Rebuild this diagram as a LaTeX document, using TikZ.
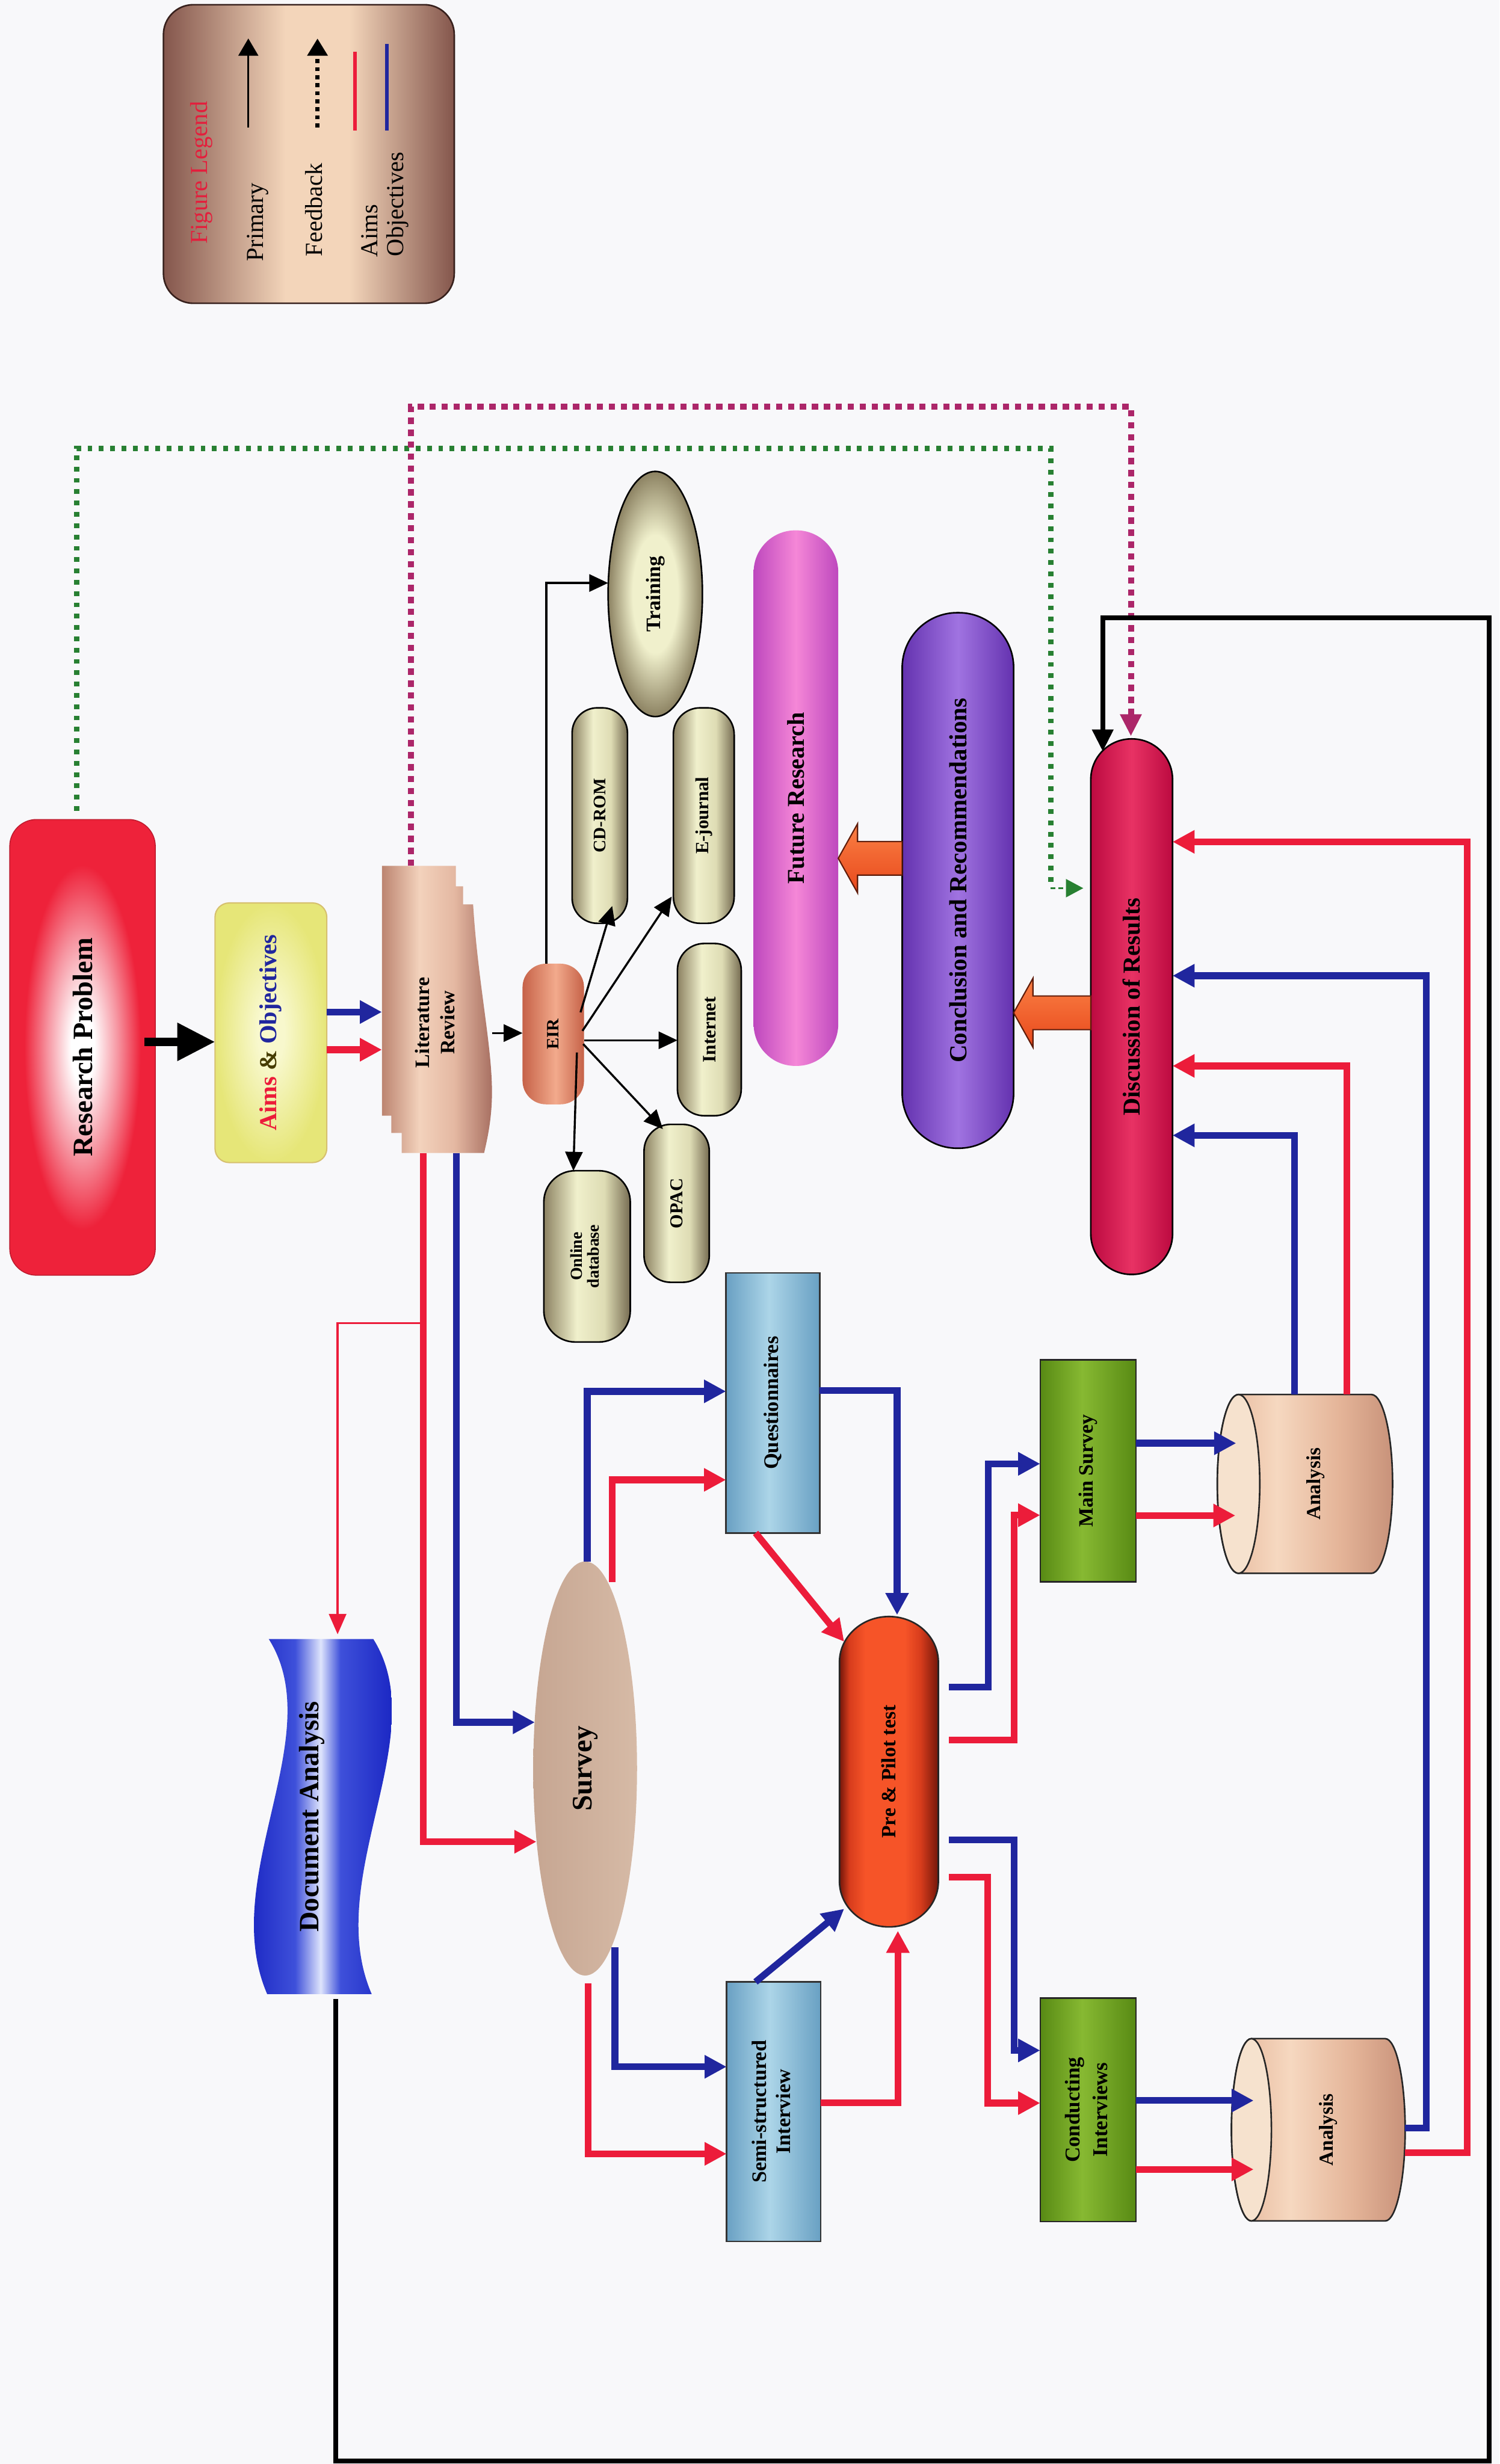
\documentclass[tikz,border=0pt]{standalone}
\usepackage{fontspec}
\setmainfont{Liberation Serif}
\usepackage{graphicx}
\usetikzlibrary{arrows.meta,calc,shapes.geometric}

\definecolor{bgc}{RGB}{248,248,250}
\definecolor{aimred}{RGB}{236,28,58}
\definecolor{objblue}{RGB}{32,38,158}
\definecolor{fbgreen}{RGB}{40,128,50}
\definecolor{fbmag}{RGB}{172,38,105}
\definecolor{rpred}{RGB}{238,34,58}
\definecolor{rpl}{RGB}{246,150,162}
\definecolor{aimyel}{RGB}{230,230,120}
\definecolor{aimyell}{RGB}{248,248,205}
\definecolor{aimedge}{RGB}{214,192,110}
\definecolor{andcol}{RGB}{70,60,0}
\definecolor{legd}{RGB}{132,86,76}
\definecolor{legl}{RGB}{243,213,186}
\definecolor{legedge}{RGB}{55,32,28}
\definecolor{legred}{RGB}{228,30,60}
\definecolor{litd}{RGB}{188,132,112}
\definecolor{litl}{RGB}{243,210,188}
\definecolor{litm}{RGB}{228,184,162}
\definecolor{litr}{RGB}{168,112,98}
\definecolor{eird}{RGB}{198,98,72}
\definecolor{eirl}{RGB}{242,170,140}
\definecolor{olvd}{RGB}{140,130,98}
\definecolor{olvl}{RGB}{240,240,204}
\definecolor{olvm}{RGB}{222,220,180}
\definecolor{olvr}{RGB}{118,108,82}
\definecolor{frd}{RGB}{190,72,190}
\definecolor{frl}{RGB}{245,135,215}
\definecolor{crd}{RGB}{100,50,175}
\definecolor{crl}{RGB}{160,115,225}
\definecolor{drd}{RGB}{188,10,64}
\definecolor{drl}{RGB}{232,50,100}
\definecolor{lbd}{RGB}{105,160,195}
\definecolor{lbl}{RGB}{172,213,232}
\definecolor{svy}{RGB}{198,166,146}
\definecolor{svyl}{RGB}{214,186,166}
\definecolor{dad}{RGB}{28,40,196}
\definecolor{dam}{RGB}{62,80,218}
\definecolor{dal}{RGB}{222,228,252}
\definecolor{ppd}{RGB}{115,22,10}
\definecolor{ppb}{RGB}{246,84,40}
\definecolor{ppm}{RGB}{215,60,28}
\definecolor{grd}{RGB}{88,138,20}
\definecolor{grl}{RGB}{135,185,50}
\definecolor{cyd}{RGB}{200,146,122}
\definecolor{cyl}{RGB}{246,216,192}
\definecolor{cym}{RGB}{228,180,152}
\definecolor{cyface}{RGB}{246,226,206}
\definecolor{orb}{RGB}{232,72,28}
\definecolor{orl}{RGB}{250,128,68}
\definecolor{ored}{RGB}{95,28,10}

\pgfdeclareradialshading{rpshade}{\pgfpoint{0bp}{0bp}}{color(0bp)=(white); color(4bp)=(white); color(12bp)=(rpl); color(20bp)=(rpred); color(50bp)=(rpred)}
\pgfdeclareradialshading{aimshade}{\pgfpoint{0bp}{0bp}}{color(0bp)=(aimyell); color(6bp)=(aimyell); color(25bp)=(aimyel); color(50bp)=(aimyel)}
\pgfdeclareradialshading{trshade}{\pgfpoint{0bp}{0bp}}{color(0bp)=(olvl); color(12bp)=(olvl); color(25bp)=(olvd); color(50bp)=(olvd)}
\pgfdeclarehorizontalshading{legshade}{100bp}{color(0bp)=(legd); color(25bp)=(legd); color(46bp)=(legl); color(57bp)=(legl); color(75bp)=(legd); color(100bp)=(legd)}
\pgfdeclarehorizontalshading{litshade}{100bp}{color(0bp)=(litd); color(25bp)=(litd); color(42bp)=(litl); color(58bp)=(litm); color(75bp)=(litr); color(100bp)=(litr)}
\pgfdeclarehorizontalshading{eirshade}{100bp}{color(0bp)=(eird); color(25bp)=(eird); color(52bp)=(eirl); color(75bp)=(eird); color(100bp)=(eird)}
\pgfdeclarehorizontalshading{olvshade}{100bp}{color(0bp)=(olvd); color(25bp)=(olvd); color(44bp)=(olvl); color(60bp)=(olvm); color(75bp)=(olvr); color(100bp)=(olvr)}
\pgfdeclarehorizontalshading{frshade}{100bp}{color(0bp)=(frd); color(25bp)=(frd); color(50bp)=(frl); color(75bp)=(frd); color(100bp)=(frd)}
\pgfdeclarehorizontalshading{crshade}{100bp}{color(0bp)=(crd); color(25bp)=(crd); color(50bp)=(crl); color(75bp)=(crd); color(100bp)=(crd)}
\pgfdeclarehorizontalshading{drshade}{100bp}{color(0bp)=(drd); color(25bp)=(drd); color(50bp)=(drl); color(75bp)=(drd); color(100bp)=(drd)}
\pgfdeclarehorizontalshading{lbshade}{100bp}{color(0bp)=(lbd); color(25bp)=(lbd); color(48bp)=(lbl); color(75bp)=(lbd); color(100bp)=(lbd)}
\pgfdeclarehorizontalshading{dashade}{100bp}{color(0bp)=(dad); color(25bp)=(dad); color(41bp)=(dam); color(50bp)=(dal); color(57bp)=(dam); color(75bp)=(dad); color(100bp)=(dad)}
\pgfdeclarehorizontalshading{ppshade}{100bp}{color(0bp)=(ppd); color(25bp)=(ppd); color(30bp)=(ppm); color(38bp)=(ppb); color(58bp)=(ppb); color(66bp)=(ppm); color(75bp)=(ppd); color(100bp)=(ppd)}
\pgfdeclarehorizontalshading{grshade}{100bp}{color(0bp)=(grd); color(25bp)=(grd); color(47bp)=(grl); color(75bp)=(grd); color(100bp)=(grd)}
\pgfdeclarehorizontalshading{cyshade}{100bp}{color(0bp)=(cym); color(25bp)=(cym); color(42bp)=(cyl); color(60bp)=(cym); color(75bp)=(cyd); color(100bp)=(cyd)}

\tikzset{
  box/.style={inner sep=0pt, outer sep=0pt},
  objln/.style={draw=objblue, line width=4.3pt, -{Triangle[length=14pt,width=14pt]}},
  aimln/.style={draw=aimred, line width=4.3pt, -{Triangle[length=14pt,width=14pt]}},
  thinblk/.style={draw=black, line width=1.3pt, -{Triangle[length=12pt,width=11pt]}},
  fbk/.style={draw=black, line width=3.2pt, -{Triangle[length=14pt,width=13pt]}},
  grdot/.style={draw=fbgreen, line width=3.3pt, dash pattern=on 3pt off 4.2pt},
  grthin/.style={draw=fbgreen, line width=1pt, dash pattern=on 3pt off 2pt, -{Triangle[length=11pt,width=11.5pt]}},
  mgdot/.style={draw=fbmag, line width=3.8pt, dash pattern=on 4pt off 3.6pt, -{Triangle[length=14pt,width=13pt]}},
  blockarrow/.style={top color=orl, bottom color=orb, draw=ored, line width=0.8pt},
  olv/.style={box, shade, shading=olvshade, draw=black, line width=1pt},
  legtxt/.style={box, font=\fontsize{15.5}{18}\selectfont},
}

\begin{document}
\begin{tikzpicture}[x=1pt,y=-1pt]
\useasboundingbox[fill=bgc] (0,0) rectangle (954,1568);

% ---------- Legend ----------
\node[box, minimum width=185pt, minimum height=190pt, rounded corners=19pt, shade, shading=legshade, draw=legedge, line width=1pt] (legend) at (196.5,98) {};
\coordinate (lpa) at (158,81); \coordinate (lpb) at (158,24.5);
\coordinate (lfa) at (202,81); \coordinate (lfb) at (202,24.5);
\coordinate (lra) at (226,83); \coordinate (lrb) at (226,33);
\coordinate (loa) at (246,83); \coordinate (lob) at (246,28);
\draw[line width=1.3pt, -{Triangle[length=11pt,width=12.6pt]}] (lpa) -- (lpb);
\draw[line width=2.6pt, dash pattern=on 2.5pt off 2.6pt, -{Triangle[length=11pt,width=12.6pt]}] (lfa) -- (lfb);
\draw[aimred, line width=2.3pt] (lra) -- (lrb);
\draw[objblue, line width=2.3pt] (loa) -- (lob);
\node[legtxt, text=legred, font=\fontsize{15.5}{18}\selectfont] (lgt) at (128,110) {\rotatebox{90}{Figure Legend}};
\node[legtxt] (lgp) at (164,141.5) {\rotatebox{90}{Primary}};
\node[legtxt] (lgf) at (199.6,133.5) {\rotatebox{90}{Feedback}};
\node[legtxt] (lga) at (235,147) {\rotatebox{90}{Aims}};
\node[legtxt] (lgo) at (253,130) {\rotatebox{90}{Objectives}};

% ---------- Main nodes ----------
\node[box, minimum width=92.6pt, minimum height=290pt, rounded corners=17pt, shade, shading=rpshade, draw=rpred!80!black, line width=0.6pt, font=\fontsize{17.8}{20}\selectfont\bfseries] (rp) at (52.5,666.5) {\rotatebox{90}{Research Problem}};

\node[box, minimum width=71.1pt, minimum height=165.2pt, rounded corners=9pt, shade, shading=aimshade, draw=aimedge, line width=0.8pt, font=\fontsize{15.5}{18}\selectfont\bfseries] (aims) at (172.35,657.2) {\rotatebox{90}{\textcolor{aimred}{Aims} \textcolor{andcol}{\&} \textcolor{objblue}{Objectives}}};

% Literature review (multi-document)
\shade[shading=litshade] (243,551) -- (290,551) -- (290,564) -- (294.6,564) -- (294.6,575.5) -- (301,575.5) .. controls (304,625) and (313,665) .. (313,695) .. controls (313,712) and (310,725) .. (308,733.7) -- (255.6,733.7) -- (255.6,721) -- (249,721) -- (249,710) -- (243,710) -- cycle;
\node[box, minimum width=70pt, minimum height=182.7pt, font=\fontsize{13}{15.8}\selectfont\bfseries] (lit) at (278,642.35) {\rotatebox{90}{\begin{tabular}{@{}c@{}}Literature\\Review\end{tabular}\hspace*{16.8pt}}};

\node[box, minimum width=39.1pt, minimum height=89.5pt, rounded corners=15pt, shade, shading=eirshade, font=\fontsize{11}{13}\selectfont\bfseries] (eir) at (352,658) {\rotatebox{90}{EIR}};

\node[ellipse, box, minimum width=60pt, minimum height=156pt, shade, shading=trshade, draw=black, line width=1pt, font=\fontsize{13}{15}\selectfont\bfseries] (train) at (416.9,378) {\rotatebox{90}{Training}};
\node[olv, minimum width=35.2pt, minimum height=137.1pt, rounded corners=16pt, font=\fontsize{11.2}{13}\selectfont\bfseries] (cd) at (381.6,519) {\rotatebox{90}{CD-ROM}};
\node[olv, minimum width=38.7pt, minimum height=137.1pt, rounded corners=17pt, font=\fontsize{11.8}{13}\selectfont\bfseries] (ej) at (447.75,519) {\rotatebox{90}{E-journal}};
\node[olv, minimum width=40.6pt, minimum height=109.6pt, rounded corners=17pt, font=\fontsize{12}{14}\selectfont\bfseries] (inet) at (451.3,655.2) {\rotatebox{90}{Internet}};
\node[olv, minimum width=41.5pt, minimum height=100.5pt, rounded corners=17pt, font=\fontsize{11.6}{13}\selectfont\bfseries] (opac) at (430.5,765.75) {\rotatebox{90}{OPAC}};
\node[olv, minimum width=55pt, minimum height=109pt, rounded corners=20pt, font=\fontsize{10.7}{11}\selectfont\bfseries] (odb) at (373.5,799.5) {\rotatebox{90}{\begin{tabular}{@{}c@{}}Online\\database\end{tabular}}};

\node[box, minimum width=53.8pt, minimum height=340.8pt, rounded corners=26.5pt, shade, shading=frshade, font=\fontsize{15.4}{18}\selectfont\bfseries] (fr) at (506.4,507.9) {\rotatebox{90}{Future Research}};
\node[box, minimum width=70.9pt, minimum height=340.8pt, rounded corners=35pt, shade, shading=crshade, draw=black, line width=1pt, font=\fontsize{15.7}{18}\selectfont\bfseries] (cr) at (609.45,560.3) {\rotatebox{90}{Conclusion and Recommendations}};
\node[box, minimum width=52pt, minimum height=340.8pt, rounded corners=25.8pt, shade, shading=drshade, draw=black, line width=1pt, font=\fontsize{15.5}{18}\selectfont\bfseries] (dr) at (720,640.6) {\rotatebox{90}{Discussion of Results}};

\node[box, minimum width=59.6pt, minimum height=165.5pt, shade, shading=lbshade, draw=black!80, line width=1pt, font=\fontsize{13.2}{15}\selectfont\bfseries] (q) at (491.7,892.75) {\rotatebox{90}{Questionnaires}};
\node[box, minimum width=59.8pt, minimum height=165.2pt, shade, shading=lbshade, draw=black!80, line width=1pt, font=\fontsize{13.1}{15.3}\selectfont\bfseries] (ss) at (492.2,1343.8) {\rotatebox{90}{\begin{tabular}{@{}c@{}}Semi-structured\\Interview\end{tabular}}};

\node[ellipse, box, minimum width=66pt, minimum height=263.5pt, shade, left color=svy, right color=svyl, font=\fontsize{18}{20}\selectfont\bfseries] (survey) at (372.3,1125.4) {\rotatebox{90}{Survey}};

% Document analysis (tape)
\begin{scope}
\clip (171,1043) -- (237.5,1043) .. controls (276.5,1105) and (204.5,1195) .. (236.5,1269) -- (170,1269) .. controls (138,1195) and (210,1105) .. (171,1043) -- cycle;
\shade[shading=dashade] (159,1040) rectangle (249,1272);
\end{scope}
\node[box, minimum width=60pt, minimum height=226pt, font=\fontsize{17.8}{20}\selectfont\bfseries] (da) at (198.4,1156) {\rotatebox{90}{Document Analysis}};

% Pre & Pilot test
\shade[shading=ppshade, draw=black!85, line width=1pt] (534.1,1057.7) arc[start angle=180, end angle=360, x radius=31.45, y radius=29] -- (597,1197.2) arc[start angle=0, end angle=180, x radius=31.45, y radius=29] -- cycle;
\node[box, minimum width=62.9pt, minimum height=197.5pt, font=\fontsize{12.9}{15}\selectfont\bfseries] (pp) at (565.55,1127.45) {\rotatebox{90}{Pre \& Pilot test}};

\node[box, minimum width=61pt, minimum height=141.2pt, shade, shading=grshade, draw=black!85, line width=1pt, font=\fontsize{13}{15}\selectfont\bfseries] (ms) at (692.3,936) {\rotatebox{90}{Main Survey}};
\node[box, minimum width=61pt, minimum height=142.2pt, shade, shading=grshade, draw=black!85, line width=1pt, font=\fontsize{13.4}{17.7}\selectfont\bfseries] (ci) at (692.3,1342.6) {\rotatebox{90}{\begin{tabular}{@{}c@{}}Conducting\\Interviews\end{tabular}}};

% Analysis cylinders
\shade[shading=cyshade, draw=black!85, line width=1pt] (788,887.4) -- (872.5,887.4) arc[start angle=-90, end angle=90, x radius=13.5, y radius=56.9] -- (788,1001.2) arc[start angle=90, end angle=270, x radius=13.5, y radius=56.9] -- cycle;
\draw[fill=cyface, draw=black!85, line width=1pt] (788,944.3) ellipse [x radius=13.5, y radius=56.9];
\node[box, minimum width=98pt, minimum height=113.8pt, font=\fontsize{12.7}{15}\selectfont\bfseries] (a1) at (837,944.3) {\rotatebox{90}{Analysis}};

\shade[shading=cyshade, draw=black!85, line width=1pt] (796.2,1297.3) -- (881.3,1297.3) arc[start angle=-90, end angle=90, x radius=12.7, y radius=58] -- (796.2,1413.3) arc[start angle=90, end angle=270, x radius=12.7, y radius=58] -- cycle;
\draw[fill=cyface, draw=black!85, line width=1pt] (796.2,1355.3) ellipse [x radius=12.7, y radius=58];
\node[box, minimum width=97.8pt, minimum height=116pt, font=\fontsize{12.7}{15}\selectfont\bfseries] (a2) at (845.1,1355.3) {\rotatebox{90}{Analysis}};

% ---------- Block arrows ----------
\coordinate (o1b) at (dr.west |- 0,644.5);
\coordinate (o1t) at (cr.east |- 0,644.5);
\shade[blockarrow] ($(o1b)+(0,-10.7)$) -- ($(o1t)+(12.3,-10.7)$) -- ($(o1t)+(12.3,-22)$) -- (o1t) -- ($(o1t)+(12.3,22)$) -- ($(o1t)+(12.3,10.7)$) -- ($(o1b)+(0,10.7)$) -- cycle;
\coordinate (o2b) at (cr.west |- 0,546.2);
\coordinate (o2t) at (fr.east |- 0,546.2);
\shade[blockarrow] ($(o2b)+(0,-10.7)$) -- ($(o2t)+(12.3,-10.7)$) -- ($(o2t)+(12.3,-22)$) -- (o2t) -- ($(o2t)+(12.3,22)$) -- ($(o2t)+(12.3,10.7)$) -- ($(o2b)+(0,10.7)$) -- cycle;

% ---------- Feedback (dotted) ----------
\draw[grdot] ($(rp.north)+(-3.7,-5.5)$) |- (668.5,285.3) -- (668.5,565.2);
\draw[grthin] (668.5,565.2) -- ($(dr.west |- 0,565.2)+(-4.8,0)$);
\draw[mgdot] (lit.north -| 261.5,0) |- (719.5,258.8) -- ($(dr.north)+(-0.5,-1.7)$);

% ---------- Primary connectors ----------
\draw[line width=5.2pt, -{Triangle[length=24pt,width=23pt]}] ($(rp.east |- 0,663)+(-7,0)$) -- (aims.west |- 0,663);
\draw[objln] (aims.east |- 0,644) -- (lit.west |- 0,644);
\draw[aimln] (aims.east |- 0,668) -- (lit.west |- 0,668);
\draw[thinblk] (lit.east |- 0,657.4) -- (eir.west |- 0,657.4);

\draw[thinblk] (eir.north -| 347.6,0) |- (train.west |- 0,371);
\draw[thinblk] ($(eir.east)+(-2.2,-13.8)$) -- ($(cd.south)+(7.9,-11)$);
\draw[thinblk] ($(eir.east)+(-1,-2)$) -- ($(ej.south west)+(-1,-17)$);
\draw[thinblk] ($(eir.east)+(0,4)$) -- (inet.west |- 0,662);
\draw[thinblk] ($(eir.east)+(-0.5,6.4)$) -- ($(opac.north west)+(12,3)$);
\draw[thinblk] ($(eir.east)+(-4.5,11.8)$) -- (odb.north -| 364.8,0);

\draw[aimln] (lit.south -| 269.3,0) |- ($(survey.west |- 0,1172)+(2,0)$);
\coordinate (dabr) at (267.3,842);
\draw[aimred, line width=1.3pt, -{Triangle[length=13pt,width=11pt]}] (dabr) -| ($(da.north)+(16.4,-3)$);
\draw[objln] (lit.south -| 290.4,0) |- ($(survey.west |- 0,1096)+(1,0)$);

\draw[objln] (survey.north -| 373.6,0) |- (q.west |- 0,885.4);
\draw[aimln] ($(survey.north)+(17.1,13.1)$) |- (q.west |- 0,941.7);
\draw[aimln] ($(q.south)+(-11,0)$) -- ($(pp.north west)+(3,16)$);
\draw[objln] (q.east |- 0,885) -| ($(pp.north)+(5.2,-1)$);

\draw[objln] ($(survey.south)+(18.9,-18)$) |- (ss.west |- 0,1315.2);
\draw[aimln] ($(survey.south)+(2,5)$) |- (ss.west |- 0,1370.6);
\draw[objln] ($(ss.north)+(-11.5,0)$) -- ($(pp.south west)+(3,-11.5)$);
\draw[aimln] (ss.east |- 0,1338) -| ($(pp.south)+(5.7,2.5)$);

\draw[objln] ($(pp.east |- 0,1073.7)+(6.6,0)$) -| (628.8,931.5) -- (ms.west |- 0,931.5);
\draw[aimln] ($(pp.east |- 0,1107.2)+(6.6,0)$) -| (645.1,964.2) -- (ms.west |- 0,964.2);
\draw[objln] ($(pp.east |- 0,1170.7)+(6.6,0)$) -| (645.1,1304.8) -- (ci.west |- 0,1304.8);
\draw[aimln] ($(pp.east |- 0,1194.6)+(6.6,0)$) -| (628.3,1338.3) -- (ci.west |- 0,1338.3);

\draw[objln] (ms.east |- 0,918.4) -- ($(a1.west |- 0,918.4)+(-1.5,0)$);
\draw[aimln] (ms.east |- 0,964.4) -- ($(a1.west |- 0,964.4)+(-2,0)$);
\draw[objln] (ci.east |- 0,1336.7) -- ($(a2.west |- 0,1336.7)+(1.4,0)$);
\draw[aimln] (ci.east |- 0,1380.5) -- ($(a2.west |- 0,1380.5)+(1.4,0)$);

\draw[objln] (a1.north -| 823.6,0) |- (dr.east |- 0,722.5);
\draw[aimln] (a1.north -| 857,0) |- (dr.east |- 0,678.3);
\draw[objln] (a2.east |- 0,1354.2) -| (907.5,620.9) -- (dr.east |- 0,620.9);
\draw[aimln] (a2.east |- 0,1370) -| (933.5,535.7) -- (dr.east |- 0,535.7);

\draw[fbk] ($(da.south)+(15.3,3)$) -- (213.7,1566) -- (947.5,1566) -- (947.5,393.2) -- (701.6,393.2) -- ($(dr.north)+(-18.4,8)$);
\end{tikzpicture}
\end{document}
